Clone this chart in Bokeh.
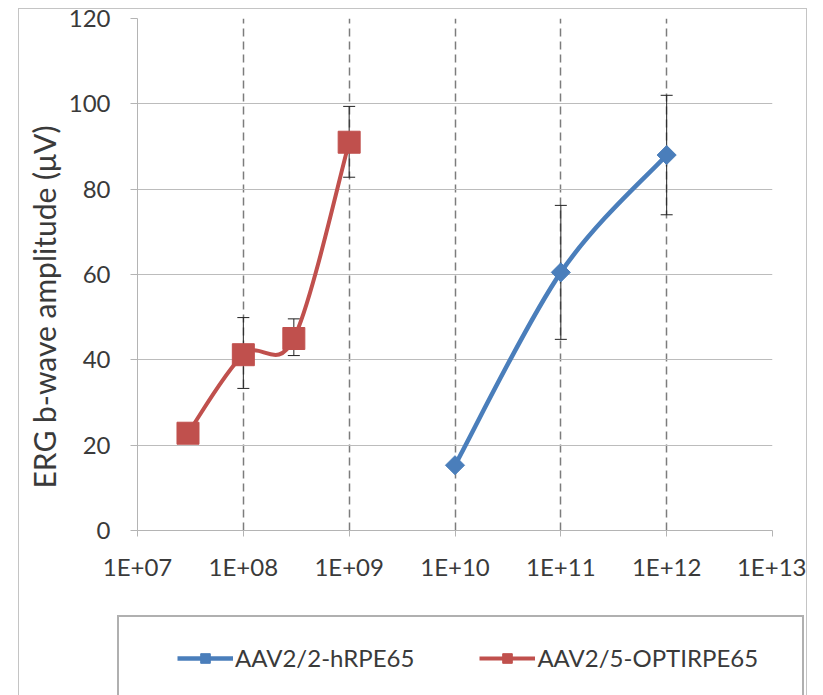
import numpy as np
from bokeh.plotting import figure
from bokeh.layouts import column
from bokeh.models import (FixedTicker, CustomJSTickFormatter, Whisker, TeeHead,
                          ColumnDataSource, Legend, LegendItem, Title)
from bokeh.embed import file_html
from bokeh.resources import INLINE

# ---------------- data ----------------
x_ticks = [1e7, 1e8, 1e9, 1e10, 1e11, 1e12, 1e13]
y_ticks = [0, 20, 40, 60, 80, 100, 120]

blue_name = "AAV2/2-hRPE65"
blue_x = [1e10, 1e11, 1e12]
blue_y = [15.3, 60.5, 88.0]
blue_err_x = [1e11, 1e12]
blue_err_lo = [44.8, 74.0]
blue_err_hi = [76.2, 102.0]

red_name = "AAV2/5-OPTIRPE65"
red_x = [3e7, 1e8, 3e8, 1e9]
red_y = [22.8, 41.2, 45.0, 91.0]
red_err_x = [1e8, 3e8, 1e9]
red_err_lo = [33.3, 41.0, 82.8]
red_err_hi = [49.9, 49.6, 99.4]

y_label = "ERG b-wave amplitude (μV)"

BLUE = "#4a7ebb"
RED = "#c0504d"
TXT = "#3a3a3a"
FONT = "Lato"
BORDER = "#c4c4c4"


def smooth_bezier(xs, ys):
    """Excel-like smoothing: cubic Bezier segments (Catmull-Rom, 1/6 tension)
    computed in log10(x) space."""
    lx = np.log10(np.asarray(xs, float))
    yy = np.asarray(ys, float)
    n = len(lx)
    seg = dict(x0=[], y0=[], x1=[], y1=[], cx0=[], cy0=[], cx1=[], cy1=[])
    for i in range(n - 1):
        pm = max(i - 1, 0)
        pp = min(i + 2, n - 1)
        c0x = lx[i] + (lx[i + 1] - lx[pm]) / 6
        c0y = yy[i] + (yy[i + 1] - yy[pm]) / 6
        c1x = lx[i + 1] - (lx[pp] - lx[i]) / 6
        c1y = yy[i + 1] - (yy[pp] - yy[i]) / 6
        seg["x0"].append(10 ** lx[i]); seg["y0"].append(yy[i])
        seg["x1"].append(10 ** lx[i + 1]); seg["y1"].append(yy[i + 1])
        seg["cx0"].append(10 ** c0x); seg["cy0"].append(c0y)
        seg["cx1"].append(10 ** c1x); seg["cy1"].append(c1y)
    return ColumnDataSource(seg)


# content origin (inside the outer border) is at page (19, 9)
CW = 787
HA = 606
HB = 80
LEFT = 118

p = figure(width=CW, height=HA, x_axis_type="log",
           x_range=(1e7, 1e13), y_range=(0, 120),
           output_backend="svg", toolbar_location=None,
           min_border_left=LEFT, min_border_right=34,
           min_border_top=9, min_border_bottom=85)
p.outline_line_color = None
p.background_fill_color = "white"
p.border_fill_color = "white"

# axes
p.xaxis.ticker = FixedTicker(ticks=x_ticks)
p.xaxis.formatter = CustomJSTickFormatter(code="""
    const e = Math.round(Math.log10(tick));
    return "1E+" + (e < 10 ? "0" + e : String(e));
""")
p.yaxis.ticker = FixedTicker(ticks=y_ticks)
for ax in (p.xaxis[0], p.yaxis[0]):
    ax.axis_line_color = "#b4b4b4"
    ax.major_tick_line_color = "#b4b4b4"
    ax.minor_tick_line_color = None
    ax.major_tick_in = 0
    ax.major_label_text_font = FONT
    ax.major_label_text_font_size = "24px"
    ax.major_label_text_color = TXT
p.xaxis.major_tick_out = 6
p.yaxis.major_tick_out = 7
p.xaxis.major_label_standoff = 15
p.yaxis.major_label_standoff = 20

# y-axis title (side-panel title so it can be placed along the axis)
p.add_layout(Title(text=y_label, align="left", offset=42, standoff=8,
                   text_font=FONT, text_font_size="30px",
                   text_font_style="normal", text_color=TXT), "left")

# grid
p.ygrid.grid_line_color = "#bcbcbc"
p.ygrid.grid_line_width = 1.2
p.xgrid.grid_line_color = "#7c7c7c"
p.xgrid.grid_line_dash = "8 5"
p.xgrid.grid_line_width = 1.5

# error bars
for ex, lo, hi in ((red_err_x, red_err_lo, red_err_hi),
                   (blue_err_x, blue_err_lo, blue_err_hi)):
    src = ColumnDataSource(dict(x=ex, lo=lo, hi=hi))
    w = Whisker(base="x", lower="lo", upper="hi", source=src,
                line_color="#222222", line_width=1,
                upper_head=TeeHead(size=12, line_color="#222222", line_width=1),
                lower_head=TeeHead(size=12, line_color="#222222", line_width=1))
    p.add_layout(w)

# smoothed lines
p.bezier(x0="x0", y0="y0", x1="x1", y1="y1", cx0="cx0", cy0="cy0",
         cx1="cx1", cy1="cy1", source=smooth_bezier(red_x, red_y),
         line_color=RED, line_width=4)
p.bezier(x0="x0", y0="y0", x1="x1", y1="y1", cx0="cx0", cy0="cy0",
         cx1="cx1", cy1="cy1", source=smooth_bezier(blue_x, blue_y),
         line_color=BLUE, line_width=4.5)

# markers
p.scatter(red_x, red_y, marker="square", size=22,
          fill_color=RED, line_color=RED)
p.scatter(blue_x, blue_y, marker="square", angle=np.pi / 4, size=13.5,
          fill_color=BLUE, line_color=BLUE)

# ---------------- legend panel ----------------
q = figure(width=687, height=HB, x_range=(0, 1), y_range=(0, 1),
           output_backend="svg", toolbar_location=None,
           min_border_left=0, min_border_right=0,
           min_border_top=0, min_border_bottom=0,
           styles={"margin-left": "98px",
                   "border-top": "2px solid #b0b0b0",
                   "border-left": "2px solid #b0b0b0",
                   "border-right": "2px solid #b0b0b0"})
q.axis.visible = False
q.grid.visible = False
q.outline_line_color = None
q.background_fill_color = "white"
q.border_fill_color = "white"

bl = q.line([np.nan], [np.nan], line_color=BLUE, line_width=4.5)
rl = q.line([np.nan], [np.nan], line_color=RED, line_width=4)
bml = q.scatter([np.nan], [np.nan], marker="square", angle=np.pi / 4, size=9,
                fill_color=BLUE, line_color=BLUE)
rml = q.scatter([np.nan], [np.nan], marker="square", size=14,
                fill_color=RED, line_color=RED)

legend = Legend(items=[LegendItem(label=blue_name, renderers=[bl, bml]),
                       LegendItem(label=red_name, renderers=[rl, rml])],
                orientation="horizontal", location=(58, 25),
                padding=0, margin=0, spacing=65,
                glyph_width=56, glyph_height=24, label_standoff=2,
                label_text_font=FONT, label_text_font_size="24px",
                label_text_color=TXT, label_height=24,
                border_line_alpha=0, background_fill_alpha=0)
q.add_layout(legend, "center")

# q is wrapped in its own column so that its frame is not aligned with p's
layout = column(p, column(q), spacing=0,
                styles={"border": f"1px solid {BORDER}",
                        "border-bottom": "none",
                        "margin-left": "18px", "margin-top": "8px"})

open("out.html", "w").write(file_html(layout, INLINE))
